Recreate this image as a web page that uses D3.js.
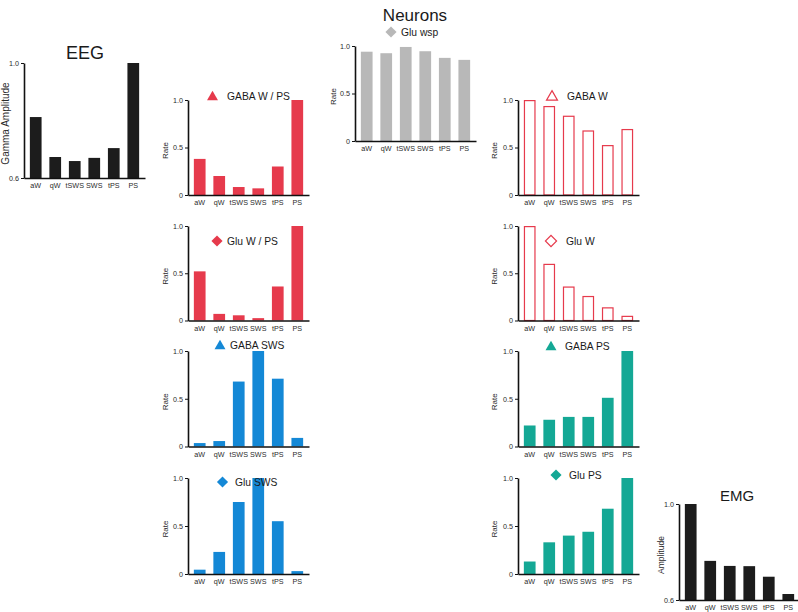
<!DOCTYPE html>
<html>
<head>
<meta charset="utf-8">
<script src="https://cdn.jsdelivr.net/npm/d3@7"></script>
<style>
  html, body { margin: 0; padding: 0; background: #fff; }
  svg { display: block; font-family: "Liberation Sans", Arial, sans-serif; }
</style>
</head>
<body>
<svg id="chart" width="798" height="612"></svg>
<script>
// ---- data ----
const categories = ["aW", "qW", "tSWS", "SWS", "tPS", "PS"];
const rateTicks = [0, 0.5, 1.0];
const ampTicks = [0.6, 1.0];
const eegValues = [0.812, 0.673, 0.659, 0.670, 0.704, 1.0];
const emgValues = [1.0, 0.763, 0.742, 0.741, 0.697, 0.625];
const gluWspValues = [0.94, 0.924, 0.99, 0.945, 0.875, 0.854];
const gabaWPSValues = [0.38, 0.20, 0.084, 0.07, 0.30, 1.0];
const gluWPSValues = [0.52, 0.07, 0.055, 0.025, 0.36, 1.0];
const gabaWValues = [1.0, 0.937, 0.835, 0.68, 0.526, 0.695];
const gluWValues = [1.0, 0.60, 0.36, 0.26, 0.14, 0.05];
const gabaSWSValues = [0.036, 0.057, 0.68, 1.0, 0.71, 0.09];
const gabaPSValues = [0.22, 0.28, 0.31, 0.31, 0.51, 1.0];
const gluSWSValues = [0.045, 0.23, 0.75, 1.0, 0.55, 0.03];
const gluPSValues = [0.13, 0.33, 0.40, 0.44, 0.68, 1.0];

// ---- styling ----
const RED = "#e63a4c", BLUE = "#1488d6", TEAL = "#14a895", GRAY = "#b8b8b8", BLACK = "#1c1c1c";

const svg = d3.select("#chart");

const panels = [
  { values: eegValues, ax: 24, top: 63, bottom: 178, domain: [0.6, 1.0], ticks: ampTicks,
    color: BLACK, ylabel: "Gamma Amplitude", ylx: 5, ylsize: 10 },
  { values: emgValues, ax: 679, top: 504, bottom: 600, domain: [0.6, 1.0], ticks: ampTicks,
    color: BLACK, ylabel: "Amplitude", ylx: 661, ylsize: 8.5 },
  { values: gluWspValues, ax: 355, top: 46, bottom: 141, domain: [0, 1], ticks: rateTicks,
    color: GRAY, ylabel: "Rate", ylx: 333, title: "Glu wsp", sym: "diamond", mx: 391, my: 32, tx: 401 },
  { values: gabaWPSValues, ax: 188, top: 100, bottom: 195, domain: [0, 1], ticks: rateTicks,
    color: RED, ylabel: "Rate", ylx: 165, title: "GABA W / PS", sym: "triangle", mx: 212.5, my: 96, tx: 227 },
  { values: gluWPSValues, ax: 188, top: 226, bottom: 320.5, domain: [0, 1], ticks: rateTicks,
    color: RED, ylabel: "Rate", ylx: 165, title: "Glu W / PS", sym: "diamond", mx: 217, my: 241, tx: 227 },
  { values: gabaSWSValues, ax: 188, top: 351, bottom: 446.5, domain: [0, 1], ticks: rateTicks,
    color: BLUE, ylabel: "Rate", ylx: 165, title: "GABA SWS", sym: "triangle", mx: 220, my: 345, tx: 230 },
  { values: gluSWSValues, ax: 188, top: 478, bottom: 574, domain: [0, 1], ticks: rateTicks,
    color: BLUE, ylabel: "Rate", ylx: 165, title: "Glu SWS", sym: "diamond", mx: 222.5, my: 482, tx: 235 },
  { values: gabaWValues, ax: 518, top: 100, bottom: 195, domain: [0, 1], ticks: rateTicks,
    color: RED, hollow: true, ylabel: "Rate", ylx: 494, title: "GABA W", sym: "triangle", mx: 552, my: 96, tx: 567 },
  { values: gluWValues, ax: 518, top: 226, bottom: 320.5, domain: [0, 1], ticks: rateTicks,
    color: RED, hollow: true, ylabel: "Rate", ylx: 494, title: "Glu W", sym: "diamond", mx: 551, my: 241, tx: 566 },
  { values: gabaPSValues, ax: 518, top: 351, bottom: 446.5, domain: [0, 1], ticks: rateTicks,
    color: TEAL, ylabel: "Rate", ylx: 494, title: "GABA PS", sym: "triangle", mx: 551, my: 346, tx: 565 },
  { values: gluPSValues, ax: 518, top: 478, bottom: 574, domain: [0, 1], ticks: rateTicks,
    color: TEAL, ylabel: "Rate", ylx: 494, title: "Glu PS", sym: "diamond", mx: 556, my: 475, tx: 569 }
];

const tickFmt = d => d === 0 ? "0" : d3.format(".1f")(d);

panels.forEach(p => {
  const g = svg.append("g");
  const x = d3.scaleBand().domain(categories)
    .range([p.ax, p.ax + 121]).paddingInner(0.4).paddingOuter(0.3);
  const y = d3.scaleLinear().domain(p.domain).range([p.bottom, p.top]);

  // bars
  g.selectAll("rect.bar").data(p.values).join("rect")
    .attr("class", "bar")
    .attr("x", (d, i) => x(categories[i]) + (p.hollow ? 0.6 : 0))
    .attr("width", x.bandwidth() - (p.hollow ? 1.2 : 0))
    .attr("y", d => y(d) + (p.hollow ? 0.6 : 0))
    .attr("height", d => Math.max(0, p.bottom - y(d) - (p.hollow ? 0.6 : 0)))
    .attr("fill", p.hollow ? "#fff" : p.color)
    .attr("stroke", p.hollow ? p.color : "none")
    .attr("stroke-width", p.hollow ? 1.2 : 0);

  // y axis
  const ya = g.append("g").attr("transform", `translate(${p.ax},0)`)
    .call(d3.axisLeft(y).tickValues(p.ticks).tickFormat(tickFmt).tickSize(3).tickSizeOuter(0).tickPadding(2));
  ya.select(".domain").attr("stroke", "#111").attr("stroke-width", 1.6);
  ya.selectAll(".tick line").attr("stroke", "#111").attr("stroke-width", 1);
  ya.selectAll(".tick text").attr("fill", "#2a2a2a").attr("font-size", 7.2);

  // x axis
  const xa = g.append("g").attr("transform", `translate(0,${p.bottom})`)
    .call(d3.axisBottom(x).tickSize(0).tickSizeOuter(0).tickPadding(5));
  xa.select(".domain").attr("stroke", "#111").attr("stroke-width", 1.6);
  xa.selectAll(".tick text").attr("fill", "#2a2a2a").attr("font-size", 7.2);

  // y label
  g.append("text")
    .attr("transform", `translate(${p.ylx},${(p.top + p.bottom) / 2 + 3}) rotate(-90)`)
    .attr("text-anchor", "middle")
    .attr("dominant-baseline", "central")
    .attr("font-size", p.ylsize || 8)
    .attr("fill", "#2a2a2a")
    .text(p.ylabel);

  // panel title with marker
  if (p.title) {
    const sym = p.sym === "triangle"
      ? d3.symbol().type(d3.symbolTriangle).size(52)
      : d3.symbol().type(d3.symbolSquare).size(62);
    g.append("path")
      .attr("d", sym())
      .attr("transform", `translate(${p.mx},${p.my + (p.sym === "triangle" ? 1 : 0)}) rotate(${p.sym === "diamond" ? 45 : 0})`)
      .attr("fill", p.hollow ? "#fff" : p.color)
      .attr("stroke", p.hollow ? p.color : "none")
      .attr("stroke-width", p.hollow ? 1.2 : 0);
    g.append("text")
      .attr("x", p.tx).attr("y", p.my + 3.7)
      .attr("font-size", 10.3)
      .attr("fill", "#1a1a1a")
      .text(p.title);
  }
});

// big titles
const bigTitles = [
  { text: "Neurons", x: 415, y: 21, size: 17 },
  { text: "EEG", x: 85, y: 58.5, size: 18 },
  { text: "EMG", x: 737, y: 500.5, size: 15 }
];
svg.selectAll("text.big").data(bigTitles).join("text")
  .attr("class", "big")
  .attr("x", d => d.x).attr("y", d => d.y)
  .attr("text-anchor", "middle")
  .attr("font-family", "'Liberation Sans Narrow', 'Liberation Sans', Arial, sans-serif")
  .attr("font-size", d => d.size)
  .attr("fill", "#1a1a1a")
  .text(d => d.text);
</script>
</body>
</html>
